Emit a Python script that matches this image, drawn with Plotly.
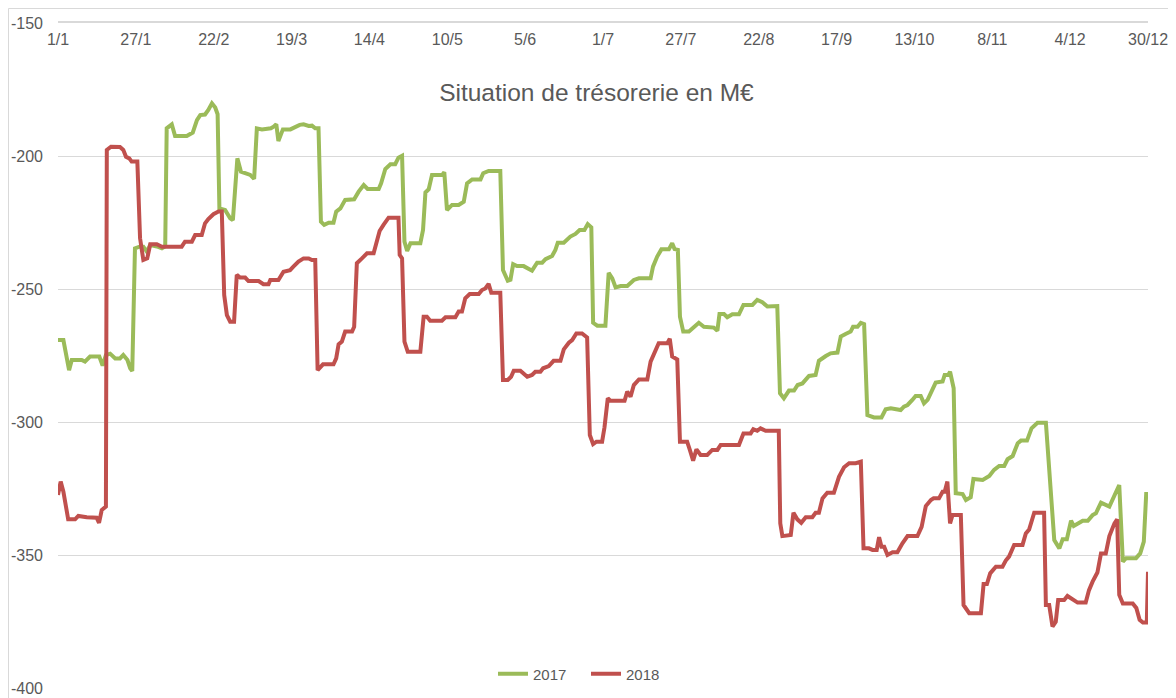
import plotly.graph_objects as go

# Day offsets from 1 January and treasury position (M€)
days_2017 = [0, 1.8, 3.7, 4.6, 7.9, 9.0, 10.7, 13.8, 14.9, 16.0, 17.4, 19.1, 20.7, 21.8, 23.2, 24.1, 24.8,
             25.7, 27.2, 28.5, 29.7, 30.8, 33.0, 34.7, 35.8, 36.3, 38.0, 39.1, 43.0, 45.0, 46.4, 47.5, 49.1,
             50.2, 51.4, 52.5, 53.3, 53.9, 55.8, 57.5, 58.4, 59.2, 59.9, 61.1, 62.5, 64.2, 65.5, 66.4, 68.1,
             71.1, 72.0, 72.9, 73.6, 75.1, 77.6, 79.2, 80.7, 82.0, 83.7, 84.8, 85.9, 87.0, 87.8, 88.9, 90.4,
             92.0, 92.9, 94.3, 95.9, 98.9, 100.4, 102.1, 103.4, 107.1, 107.9, 109.3, 111.0, 112.6, 113.7,
             114.9, 115.7, 116.6, 117.7, 121.0, 121.9, 122.7, 123.8, 124.9, 128.3, 129.0, 129.9, 131.6,
             133.8, 135.5, 136.6, 138.3, 141.1, 142.0, 143.8, 147.7, 148.6, 150.2, 151.1, 152.0, 153.3,
             155.5, 158.3, 160.0, 161.7, 162.8, 165.0, 166.1, 166.9, 168.9, 171.1, 172.8, 174.2, 175.8,
             176.9, 178.1, 178.7, 180.1, 182.8, 183.9, 185.1, 186.2, 187.9, 190.1, 192.3, 194.0, 197.9,
             198.7, 200.1, 201.5, 204.0, 205.1, 205.9, 207.0, 207.7, 208.8, 210.7, 214.0, 215.7, 219.0,
             220.2, 220.9, 222.4, 223.5, 225.2, 227.4, 228.9, 231.9, 233.5, 235.2, 236.9, 240.2, 241.1,
             242.4, 244.1, 245.8, 247.0, 248.6, 250.8, 253.0, 254.1, 256.4, 258.0, 260.3, 261.4, 263.0,
             264.7, 265.5, 267.0, 268.1, 269.2, 270.3, 272.5, 275.0, 276.4, 278.1, 281.4, 282.5, 283.7,
             285.3, 286.4, 288.1, 289.2, 290.4, 293.1, 295.4, 296.1, 297.3, 297.9, 299.1, 299.8, 302.1,
             303.2, 304.8, 305.7, 308.8, 311.0, 312.6, 314.3, 316.0, 317.1, 318.8, 320.5, 321.6, 323.6,
             325.1, 327.1, 329.9, 332.7, 334.4, 335.5, 336.9, 338.3, 339.2, 340.5, 342.2, 343.9, 345.5,
             346.6, 348.3, 351.1, 352.2, 354.4, 355.6, 356.7, 360.0, 361.4, 362.6, 363.4, 364.0]
tresorerie_2017 = [-269.2, -269.2, -280.5, -276.7, -276.7, -277.3, -275.4, -275.4, -278.8, -274.8, -274.3,
                   -276.1, -276.1, -274.8, -276.7, -279.8, -280.8,
                   -234.7, -234.1, -234.1, -236.0, -233.5, -234.0, -234.7, -234.0, -189.6, -188.1, -192.5,
                   -192.5, -191.2, -186.5, -184.6, -184.4,
                   -182.7, -180.2, -181.8, -184.3, -219.7, -220.3, -223.4, -224.1, -209.7, -200.9, -205.9,
                   -206.5, -207.1, -208.6, -189.6, -190.0,
                   -189.6, -189.0, -188.1, -194.4, -190.0, -190.0, -189.0, -188.3, -188.1, -188.7, -188.6,
                   -189.6, -189.6, -224.7, -225.9, -225.1,
                   -225.1, -220.9, -219.7, -216.5, -216.3, -213.4, -210.9, -212.4, -212.4, -210.3, -204.9,
                   -203.1, -203.1, -200.6,
                   -199.9, -232.2, -235.7, -232.8, -232.8, -227.8, -213.7, -212.5, -207.1, -207.1, -206.1,
                   -220.3, -218.4,
                   -218.4, -217.2, -210.3, -208.8, -208.8, -206.5, -205.6, -205.6, -242.9, -246.9, -246.5,
                   -240.7, -241.4,
                   -241.4, -243.1, -240.1, -240.1, -238.8, -237.6, -235.3, -232.6, -232.6, -230.3, -229.3,
                   -227.8, -227.8,
                   -225.6, -226.8, -262.7, -263.8, -263.8, -243.9, -246.0, -249.4, -248.9, -248.9, -246.6,
                   -246.0, -246.0,
                   -241.6, -237.8, -235.1, -235.1, -232.8, -235.0, -235.3, -260.4, -266.0, -266.0, -262.7,
                   -264.2, -264.5,
                   -265.7, -259.4, -259.4, -260.6, -259.5, -259.5, -256.0, -256.0, -254.1, -255.0, -256.6,
                   -256.4, -289.2,
                   -291.1, -288.2, -288.2, -286.1, -285.5, -282.7, -282.3, -277.0, -275.2, -274.2, -273.9,
                   -267.9, -266.9,
                   -266.0, -264.2, -264.2, -262.7, -263.2, -297.4, -298.3, -298.3, -295.2, -294.8, -295.5,
                   -294.2, -293.6,
                   -291.7, -290.2, -290.2, -293.0, -291.7, -285.2, -284.8, -282.3, -282.3, -281.1, -287.3,
                   -326.8, -327.1,
                   -329.3, -328.3, -321.4, -321.8, -320.3, -318.0, -316.5, -316.5, -314.0, -312.8, -308.0,
                   -307.0, -307.0,
                   -302.4, -300.3, -300.3, -344.4, -347.5, -344.1, -344.1, -337.1, -339.1, -338.1, -337.1,
                   -337.1, -335.0,
                   -334.3, -330.3, -331.8, -329.3, -323.7, -352.5, -351.2, -351.2, -349.4, -345.0, -327.1,
                   -327.1]

days_2018 = [0, 0.9, 1.8, 3.4, 5.7, 6.8, 9.6, 12.9, 13.7, 14.6, 16.0, 16.3, 17.7, 20.7, 21.8, 22.7, 23.8,
             24.6, 26.5, 27.4, 28.5, 29.8, 30.8, 33.0, 34.7, 41.3, 42.4, 44.7, 45.8, 48.0, 49.1, 50.2,
             51.9, 53.6, 54.7, 55.5, 56.4, 57.5, 58.8, 59.7, 60.8, 62.5, 63.6, 67.0, 68.6, 70.3, 70.9,
             73.6, 75.3, 77.5, 78.6, 80.3, 82.0, 83.7, 84.8, 85.9, 86.7, 88.5, 92.0, 92.9, 93.7, 94.8,
             95.9, 98.2, 98.9, 99.8, 101.5, 103.2, 105.4, 106.5, 107.4, 108.7, 110.4, 113.7, 114.1, 114.9,
             115.7, 116.8, 121.0, 122.1, 123.2, 124.3, 128.2, 129.4, 132.7, 133.8, 134.9, 136.0, 137.5,
             140.5, 141.6, 142.7, 143.8, 144.7, 147.7, 148.6, 150.2, 151.3, 152.2, 154.4, 156.7, 158.3,
             159.4, 161.1, 162.0, 163.9, 165.5, 167.8, 168.9, 170.6, 171.7, 173.1, 175.0, 176.7, 177.6,
             178.7, 179.8, 181.7, 182.5, 183.6, 184.5, 189.2, 190.1, 191.2, 192.3, 194.0, 196.8, 197.9,
             199.0, 200.6, 203.5, 204.3, 205.1, 206.8, 207.7, 210.1, 211.0, 212.1, 213.2, 214.6, 216.8,
             218.5, 220.2, 221.3, 227.4, 228.9, 231.3, 232.2, 233.5, 234.6, 236.3, 240.7, 241.2, 241.9,
             244.7, 245.6, 246.9, 248.2, 249.7, 251.9, 253.0, 254.1, 255.3, 256.9, 259.1, 260.8, 262.5,
             264.2, 266.4, 268.1, 269.0, 270.8, 272.0, 273.4, 274.2, 275.0, 275.9, 277.0, 278.7, 280.3,
             282.0, 283.7, 287.0, 288.4, 289.8, 291.5, 292.4, 294.2, 295.4, 296.1, 297.0, 297.9, 298.7,
             301.5, 302.4, 304.3, 308.2, 309.1, 310.2, 311.3, 313.2, 315.4, 316.5, 317.6, 319.3, 322.1,
             323.2, 324.3, 326.0, 329.3, 329.9, 331.0, 332.1, 333.2, 334.0, 336.0, 337.1, 339.3, 340.5,
             343.2, 344.3, 345.5, 347.1, 348.3, 349.9, 351.1, 352.8, 353.7, 354.4, 355.6, 358.9, 360.1,
             361.2, 362.3, 363.6, 364.0]
tresorerie_2018 = [-327.4, -322.4, -326.2, -336.6, -336.6, -335.3, -335.8, -336.0, -337.9, -333.1, -331.8,
                   -197.7, -196.5, -196.6, -197.7, -200.3, -200.9,
                   -202.1, -202.1, -230.9, -239.1, -238.5, -233.2, -233.2, -234.1, -234.1, -232.2, -232.2,
                   -229.7, -229.7, -225.3, -223.7,
                   -221.9, -220.9, -220.9, -252.3, -259.8, -262.3, -262.3, -244.7, -245.7, -245.7, -247.0,
                   -247.0, -248.2, -248.2, -246.6,
                   -246.6, -243.5, -242.9, -241.6, -239.7, -238.5, -238.5, -239.1, -239.1, -280.5, -278.3,
                   -278.3, -276.1, -270.8, -269.8,
                   -266.0, -266.0, -264.2, -240.3, -238.5, -236.6, -236.6, -232.2, -228.2, -225.9, -223.2,
                   -223.2, -237.2, -238.5,
                   -269.8, -273.6, -273.6, -260.4, -260.4, -261.9, -261.9, -260.6, -260.6, -258.5, -258.5,
                   -253.5, -251.9,
                   -251.9, -250.4, -249.8, -248.1, -251.4, -251.4, -284.2, -284.2, -283.0, -280.7, -280.7,
                   -283.0, -282.3,
                   -281.1, -281.1, -279.8, -279.0, -277.0, -277.0, -272.7, -270.2, -269.2, -266.7, -266.7,
                   -268.2, -304.9,
                   -308.3, -307.4, -307.4, -302.0, -291.1, -292.0, -292.0, -288.6, -290.5, -286.1, -284.0,
                   -284.0, -277.3,
                   -274.8, -270.4, -270.4, -268.7, -275.4, -276.5, -307.4, -307.4, -310.5, -314.5, -310.3,
                   -312.4, -312.4,
                   -310.5, -310.5, -308.6, -308.6, -304.3, -304.3, -302.7, -303.3, -302.4, -303.3, -303.3,
                   -338.1, -342.9,
                   -342.5, -334.1, -336.6, -337.9, -335.8, -335.8, -334.1, -334.1, -328.7, -326.6, -326.6,
                   -320.6, -317.0,
                   -315.5, -315.5, -314.9, -347.5, -347.5, -348.1, -348.1, -343.3, -346.9, -346.9, -350.0,
                   -349.0, -349.0,
                   -345.6, -342.9, -342.9, -339.4, -331.6, -329.3, -328.7, -328.7, -326.2, -326.2, -322.4,
                   -338.1, -335.0,
                   -335.0, -368.8, -371.9, -371.9, -360.9, -360.9, -356.9, -354.4, -354.4, -352.1, -350.6,
                   -346.2, -346.2,
                   -341.9, -340.4, -334.1, -334.1, -368.8, -368.8, -376.9, -375.1, -366.9, -366.9, -365.4,
                   -366.9, -367.9,
                   -367.9, -363.2, -360.0, -356.6, -349.4, -349.4, -342.9, -338.1, -336.6, -365.0, -368.2,
                   -368.2, -369.9,
                   -374.4, -375.4, -375.4, -356.3]

tick_days = [0, 26, 52, 78, 104, 130, 156, 182, 208, 234, 260, 286, 312, 338, 364]
tick_labels = ["1/1", "27/1", "22/2", "19/3", "14/4", "10/5", "5/6", "1/7", "27/7", "22/8",
               "17/9", "13/10", "8/11", "4/12", "30/12"]
y_ticks = [-400, -350, -300, -250, -200, -150]
y_tick_labels = ["-400", "-350", "-300", "-250", "-200", "-150"]

title_text = "Situation de trésorerie en M€"
FONT = "Liberation Sans"
GREY = "#595959"
GRID = "#d9d9d9"

# The page places the figure 8 px from the top-left corner (body margin)
W, H = 1168, 690
ML, MT, MR, MB = 50, 15, 28, 10
PW, PH = W - ML - MR, H - MT - MB

fig = go.Figure()
fig.add_trace(go.Scatter(x=days_2017, y=tresorerie_2017, mode="lines", name="2017",
                         line=dict(color="#9BBB59", width=4)))
fig.add_trace(go.Scatter(x=days_2018, y=tresorerie_2018, mode="lines", name="2018",
                         line=dict(color="#C0504D", width=4)))

fig.update_layout(
    width=W, height=H, autosize=False,
    margin=dict(l=ML, r=MR, t=MT, b=MB, pad=0, autoexpand=False),
    paper_bgcolor="white", plot_bgcolor="white",
    font=dict(family=FONT, size=16, color=GREY),
    title=dict(text=title_text, x=0.494, xref="paper", xanchor="center",
               y=1 - 84 / H, yref="container", yanchor="middle",
               font=dict(family=FONT, size=24.5, color=GREY)),
    showlegend=True,
    legend=dict(orientation="h", x=(485 - ML) / PW, xanchor="left",
                y=(H - MB - 666) / PH, yanchor="middle", entrywidth=48,
                bgcolor="rgba(0,0,0,0)", font=dict(size=15, color=GREY)),
    xaxis=dict(range=[0, 364], side="top", tickmode="array", tickvals=tick_days,
               ticktext=tick_labels, ticklabelposition="inside", ticklabeloverflow="allow",
               ticklabelstandoff=11, showgrid=False, automargin=False,
               zeroline=False, showline=True, linecolor=GRID, linewidth=1.5, ticks="",
               tickfont=dict(size=16, color=GREY)),
    yaxis=dict(range=[-400, -150], tickmode="array", tickvals=y_ticks, ticktext=y_tick_labels,
               showgrid=True, gridcolor=GRID, gridwidth=1, zeroline=False, showline=False,
               automargin=False, ticks="", ticklabelstandoff=14,
               tickfont=dict(size=16, color=GREY)),
    shapes=[dict(type="rect", xref="paper", yref="paper",
                 x0=(0.5 - ML) / PW, x1=(W + 20 - ML) / PW,
                 y0=(H - MB - (H + 30)) / PH, y1=(H - MB - 0.5) / PH,
                 line=dict(color=GRID, width=1), fillcolor="rgba(0,0,0,0)", layer="below")],
)

fig.write_html("out.html")
